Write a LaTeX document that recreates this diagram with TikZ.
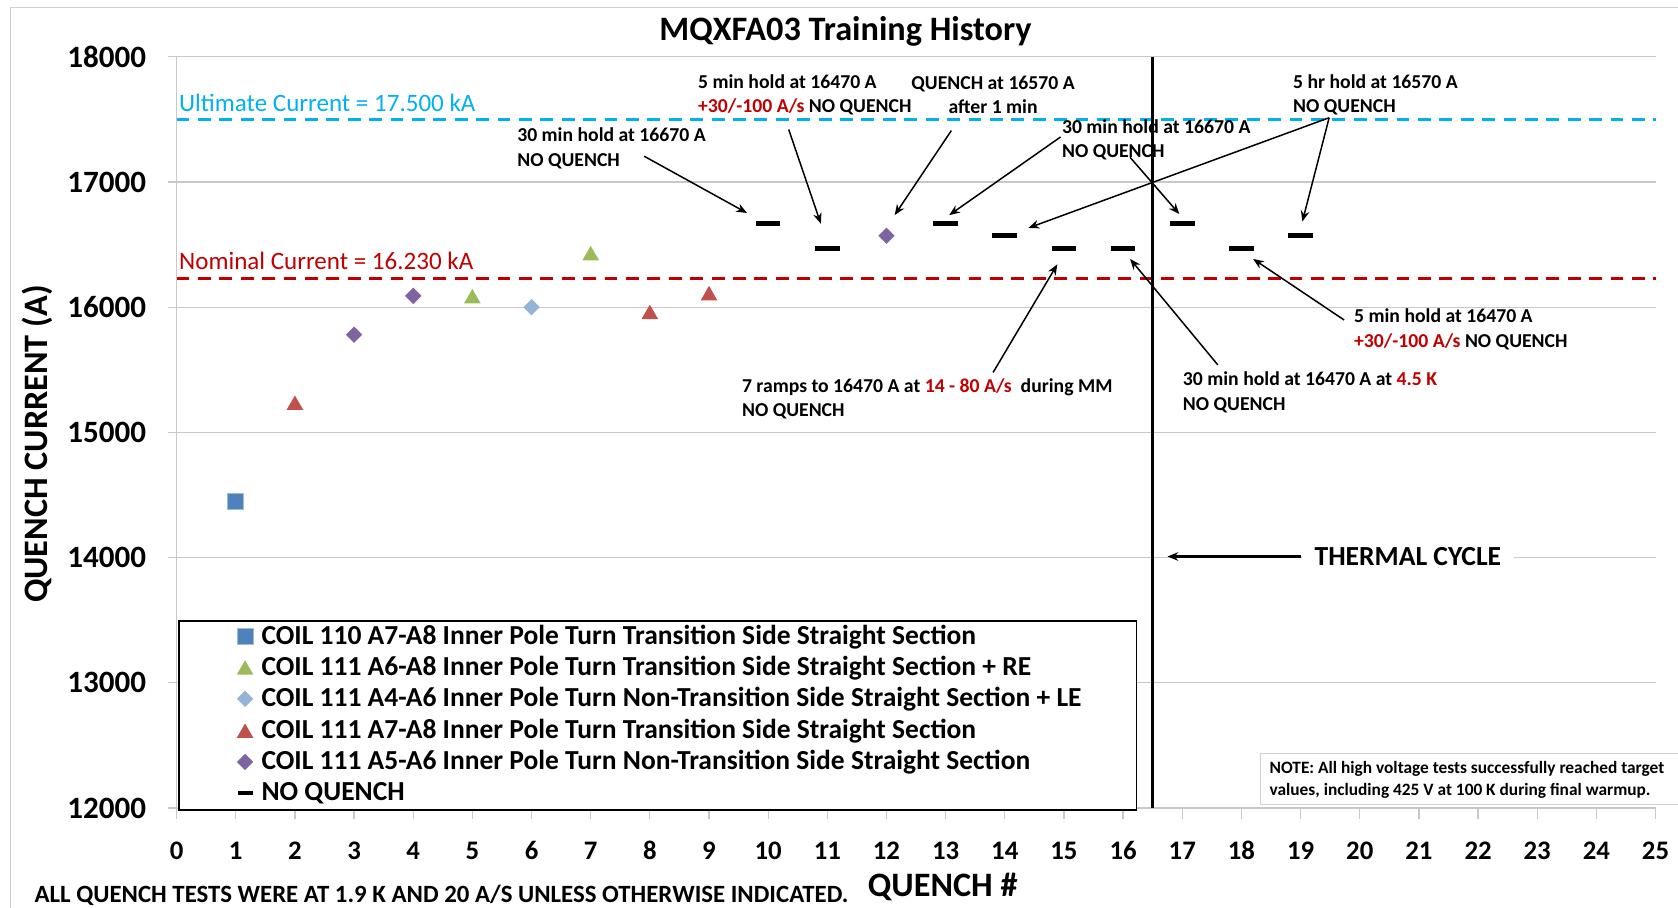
\documentclass[tikz,border=0pt]{standalone}
\usepackage{fontspec}
\setmainfont{Carlito}
\usepackage{xcolor}
\usetikzlibrary{arrows.meta, shapes.geometric}
\definecolor{ultblue}{HTML}{00B0F0}
\definecolor{nomred}{HTML}{C00000}
\definecolor{gridgray}{HTML}{C8C8C8}
\definecolor{framegray}{HTML}{D0D0D0}
\definecolor{cA}{HTML}{4F81BD}
\definecolor{cB}{HTML}{9BBB59}
\definecolor{cC}{HTML}{95B3D7}
\definecolor{cD}{HTML}{C0504D}
\definecolor{cE}{HTML}{8064A2}
\newcommand{\chsize}[2]{\fontsize{#1}{#2}\selectfont}
\tikzset{
    gridln/.style={draw=gridgray, line width=0.6pt},
    limline/.style={dash pattern=on 6pt off 4pt, line width=1.2pt},
    sqmk/.style={rectangle, fill=cA, draw=cA!55, line width=0.3pt, minimum size=7.5pt, inner sep=0},
    trimk/.style={regular polygon, regular polygon sides=3, fill=#1, minimum size=9pt, inner sep=0, yshift=-1pt},
    dmmk/.style={diamond, fill=#1, minimum size=7.8pt, inner sep=0},
    nqmk/.style={rectangle, fill=black, minimum width=11.5pt, minimum height=2.5pt, inner sep=0},
    annot/.style={font=\bfseries\chsize{9.2}{11.5}, align=left, inner sep=0, anchor=west},
    arr/.style={-{Stealth[length=5pt, width=4pt]}, line width=0.7pt},
    tlbl/.style={font=\bfseries\chsize{14.5}{16}, inner sep=0},
    lgd/.style={font=\bfseries\chsize{12.85}{14}, anchor=west, inner sep=0}
}

\begin{document}
\begin{tikzpicture}[x=0.5pt, y=-0.5pt]
    \useasboundingbox (0,0) rectangle (1568,848);
    % chart frame and title
    \draw[framegray, line width=0.6pt] (10,848) -- (10,7) -- (1568,7);
    \node[font=\bfseries\chsize{16}{18}] (title) at (790,29) {MQXFA03 Training History};
    % plot area, in quench number and kA
    \begin{scope}[shift={(82.5pt,-1079.5pt)}, x=27.64pt, y=58.5pt]
        \foreach \i in {12,...,18} {
            \draw[gridln] (-0.15,\i) -- (25,\i);
            \node[tlbl, anchor=east] at (-0.51,\i) {\i000};
        }
        \draw[gridln] (0,12) -- (0,18);
        \foreach \q in {0,...,25} {
            \draw[gridln] (\q,12) -- (\q,11.915);
            \node[font=\bfseries\chsize{12.5}{14}] at (\q,11.658) {\q};
        }
        % ultimate and nominal current
        \draw[limline, ultblue] (0,17.5) -- (25,17.5);
        \draw[limline, nomred] (0,16.23) -- (25,16.23);
        % quenches
        \node[sqmk] (q1) at (1,14.45) {};
        \node[trimk=cD] (q2) at (2,15.235) {};
        \node[dmmk=cE] (q3) at (3,15.78) {};
        \node[dmmk=cE] (q4) at (4,16.09) {};
        \node[trimk=cB] (q5) at (5,16.085) {};
        \node[dmmk=cC] (q6) at (6,16.0) {};
        \node[trimk=cB] (q7) at (7,16.43) {};
        \node[trimk=cD] (q8) at (8,15.96) {};
        \node[trimk=cD] (q9) at (9,16.11) {};
        \node[dmmk=cE] (q12) at (12,16.57) {};
        % holds, no quench
        \foreach \q/\i in {10/16.67, 11/16.47, 13/16.67, 14/16.57, 15/16.47, 16/16.47, 17/16.67, 18/16.47, 19/16.57}
            \node[nqmk] (q\q) at (\q,\i) {};
    \end{scope}
    \node[anchor=west, inner sep=0, text=ultblue, font=\chsize{11.7}{13}] (ult) at (167,96) {Ultimate Current = 17.500 kA};
    \node[anchor=west, inner sep=0, text=nomred, font=\chsize{11.7}{13}] (nom) at (167,244) {Nominal Current = 16.230 kA};
    % annotations
    \node[annot] (nA) at (483,138.5) {30 min hold at 16670 A\\NO QUENCH};
    \node[annot] (nB) at (652,88.5) {5 min hold at 16470 A\\\textcolor{nomred}{+30/-100 A/s} NO QUENCH};
    \node[annot, align=center, anchor=center] (nC) at (928,88.5) {QUENCH at 16570 A\\after 1 min};
    \node[annot] (nD) at (992,130.5) {30 min hold at 16670 A\\NO QUENCH};
    \node[annot] (nE) at (1208,88.5) {5 hr hold at 16570 A\\NO QUENCH};
    \node[annot] (nF) at (693,372.5) {7 ramps to 16470 A at \textcolor{nomred}{14 - 80 A/s}\ \ during MM\\NO QUENCH};
    \node[annot] (nG) at (1105,366.5) {30 min hold at 16470 A at \textcolor{nomred}{4.5 K}\\NO QUENCH};
    \node[annot] (nH) at (1265,307.5) {5 min hold at 16470 A\\\textcolor{nomred}{+30/-100 A/s} NO QUENCH};
    \coordinate (tA) at (602,146);   \coordinate (hA) at (698,199);
    \coordinate (tB) at (737,121);   \coordinate (hB) at (767,209);
    \coordinate (tC) at (889,122);   \coordinate (hC) at (836,201);
    \coordinate (tD) at (991,128);   \coordinate (hD) at (887,201);
    \coordinate (tD2) at (1056,147); \coordinate (hD2) at (1102,200);
    \coordinate (tE) at (1242,110);  \coordinate (hE) at (961,213);
    \coordinate (hE2) at (1217,207);
    \coordinate (tF) at (928,348);   \coordinate (hF) at (988,247);
    \coordinate (tG) at (1138,341);  \coordinate (hG) at (1056,242);
    \coordinate (tH) at (1256,299);  \coordinate (hH) at (1171,242);
    \draw[arr] (tA) -- (hA);
    \draw[arr] (tB) -- (hB);
    \draw[arr] (tC) -- (hC);
    \draw[arr] (tD) -- (hD);
    \draw[arr] (tD2) -- (hD2);
    \draw[arr] (tE) -- (hE);
    \draw[arr] (tE) -- (hE2);
    \draw[arr] (tF) -- (hF);
    \draw[arr] (tG) -- (hG);
    \draw[arr] (tH) -- (hH);
    % thermal cycle
    \draw[line width=1.5pt] (1077,53) -- (1077,755);
    \node[font=\bfseries\chsize{12.9}{14}, fill=white, inner xsep=6pt, inner ysep=1pt, anchor=west] (tcyc) at (1216,520) {THERMAL CYCLE};
    \coordinate (tcl) at (1091,520);
    \draw[arr, line width=1pt] (tcyc) -- (tcl);
    % legend
    \draw[fill=white, line width=0.75pt] (167,580) rectangle (1062,757);
    \node[sqmk] (l1) at (229,595) {};
    \node[lgd] at (244,595) {COIL 110 A7-A8 Inner Pole Turn Transition Side Straight Section};
    \node[trimk=cB] (l2) at (229,624) {};
    \node[lgd] at (244,624) {COIL 111 A6-A8 Inner Pole Turn Transition Side Straight Section + RE};
    \node[dmmk=cC] (l3) at (229,653) {};
    \node[lgd] at (244,653) {COIL 111 A4-A6 Inner Pole Turn Non-Transition Side Straight Section + LE};
    \node[trimk=cD] (l4) at (229,683) {};
    \node[lgd] at (244,683) {COIL 111 A7-A8 Inner Pole Turn Transition Side Straight Section};
    \node[dmmk=cE] (l5) at (229,712) {};
    \node[lgd] at (244,712) {COIL 111 A5-A6 Inner Pole Turn Non-Transition Side Straight Section};
    \node[nqmk, minimum width=7pt, minimum height=1.6pt] (l6) at (229,741) {};
    \node[lgd] at (244,741) {NO QUENCH};
    % note box
    \draw[framegray, fill=white, line width=0.6pt] (1178,704) rectangle (1575,752);
    \node[anchor=west, inner sep=0, align=left, font=\bfseries\chsize{8.1}{10.5}] (note) at (1186,728.5) {NOTE: All high voltage tests successfully reached target\\values, including 425 V at 100 K during final warmup.};
    % axis titles
    \node[font=\bfseries\chsize{16}{18}] (xlab) at (881,829) {QUENCH \#};
    \node[font=\bfseries\chsize{16}{18}, rotate=90] (ylab) at (35,415) {QUENCH CURRENT (A)};
    \node[anchor=west, inner sep=0, font=\bfseries\chsize{11.6}{13}] (foot) at (32,837) {ALL QUENCH TESTS WERE AT 1.9 K AND 20 A/S UNLESS OTHERWISE INDICATED.};
\end{tikzpicture}
\end{document}
